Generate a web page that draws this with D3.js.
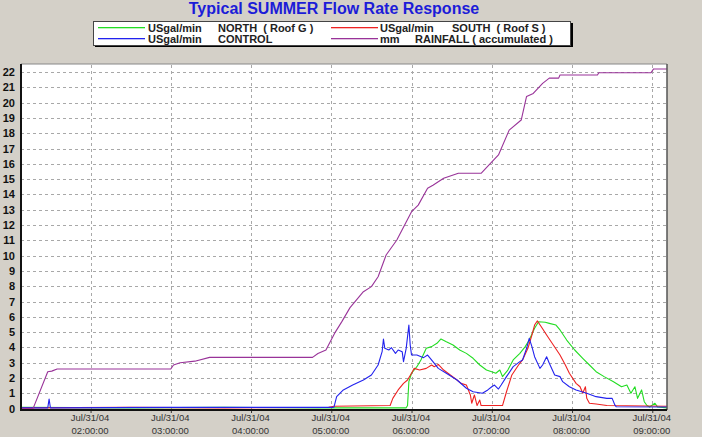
<!DOCTYPE html>
<html><head><meta charset="utf-8">
<script src="https://cdn.jsdelivr.net/npm/d3@7/dist/d3.min.js"></script>
<style>html,body{margin:0;padding:0;background:#d4d0c8;overflow:hidden}</style>
</head><body>
<svg id="c" width="702" height="437"></svg>
<script>
const title = "Typical SUMMER Flow Rate Response";
const yTicks = d3.range(0, 23);
const xTickTimes = ["02:00","03:00","04:00","05:00","06:00","07:00","08:00","09:00"];
const dateLabel = "Jul/31/04";
const xDomain = ["01:08","09:11"];

const seriesNames = ["NORTH","SOUTH","CONTROL","RAINFALL"];
const legendUnits = ["USgal/min","USgal/min","USgal/min","mm"];
const legendTexts = ["NORTH  ( Roof G )","SOUTH  ( Roof S )","CONTROL","RAINFALL ( accumulated )"];
const colors = ["#22dd22","#ee2222","#2222ee","#993399"];

const northT = ["01:08","02:30","03:40","04:50","05:56","05:57","05:58","06:00","06:04","06:07","06:11","06:15","06:19","06:22","06:26","06:31","06:36","06:41","06:46","06:51","06:56","07:01","07:03","07:06","07:08","07:12","07:16","07:21","07:25","07:28","07:32","07:35","07:40","07:43","07:48","07:51","07:56","08:02","08:08","08:13","08:18","08:24","08:31","08:37","08:41","08:44","08:47","08:49","08:52","08:54","08:56","08:58","09:02","09:04","09:11"];
const northV = [0.08,0.05,0.08,0.05,0.05,0.2,1.76,2.31,2.74,3.18,3.94,4.05,4.27,4.55,4.37,4.16,3.83,3.61,3.29,2.85,2.52,2.37,2.31,2.52,2.09,2.52,3.18,3.61,4.05,4.48,5.25,5.68,5.64,5.57,5.46,5.14,4.48,3.83,3.29,2.85,2.41,2.09,1.76,1.43,1.54,1.0,1.43,0.67,1.22,0.45,0.2,0.1,0.35,0.1,0.05];

const southT = ["01:08","02:30","03:40","04:58","05:02","05:44","05:46","05:50","05:54","05:57","06:00","06:02","06:06","06:11","06:15","06:17","06:20","06:24","06:29","06:34","06:37","06:41","06:44","06:45","06:47","06:49","06:51","06:52","07:08","07:11","07:15","07:20","07:23","07:27","07:30","07:32","07:34","07:37","07:41","07:46","07:51","07:55","07:58","08:03","08:06","08:08","08:10","08:11","08:13","08:18","08:26","09:11"];
const southV = [0.05,0.08,0.05,0.08,0.15,0.2,0.67,1.22,1.65,1.87,2.31,2.63,2.52,2.63,2.85,2.74,2.89,2.52,2.2,1.87,1.65,1.54,0.89,0.35,0.89,0.2,0.56,0.2,0.2,1.1,2.2,2.85,3.18,3.94,4.81,5.46,5.73,5.35,4.81,4.16,3.5,2.85,2.31,1.65,1.43,1.0,1.43,0.67,0.35,0.3,0.2,0.15];

const controlT = ["01:08","01:28","01:29","01:30","03:00","05:01","05:02","05:04","05:09","05:16","05:24","05:30","05:35","05:38","05:39","05:40","05:43","05:45","05:48","05:50","05:53","05:54","05:56","05:58","05:59","06:00","06:04","06:09","06:12","06:16","06:20","06:26","06:34","06:41","06:46","06:53","06:57","07:00","07:02","07:05","07:07","07:11","07:16","07:21","07:23","07:26","07:28","07:30","07:32","07:36","07:38","07:41","07:43","07:47","07:51","07:53","07:58","08:03","08:11","08:18","08:26","08:30","08:32","08:33","09:11"];
const controlV = [0.05,0.05,0.63,0.05,0.08,0.08,0.1,0.78,1.22,1.54,1.87,2.2,2.85,3.72,4.55,3.94,3.83,3.98,3.61,3.83,3.72,3.07,3.94,5.46,4.16,3.5,3.5,3.33,3.5,3.07,2.63,2.31,1.87,1.33,1.1,1.0,1.22,1.43,1.54,1.28,1.54,2.09,2.74,3.07,3.18,3.94,4.59,4.05,3.39,2.63,2.85,3.39,2.96,2.2,2.09,1.76,1.43,1.22,1.0,0.78,0.67,0.67,0.24,0.12,0.1];

const rainT = ["01:08","01:17","01:28","01:31","01:35","03:00","03:02","03:07","03:18","03:29","04:46","04:50","04:56","05:03","05:08","05:14","05:24","05:30","05:35","05:41","05:49","05:56","06:00","06:05","06:12","06:16","06:24","06:35","06:52","06:59","07:05","07:13","07:22","07:26","07:31","07:38","07:43","07:50","07:51","08:19","08:20","08:59","09:01","09:11"];
const rainV = [0,0,2.41,2.45,2.59,2.59,2.85,3.0,3.1,3.35,3.35,3.6,3.83,5.0,5.7,6.6,7.64,7.97,8.62,10.04,11.02,12.2,12.87,13.3,14.4,14.6,15.05,15.38,15.38,16.03,16.58,18.2,18.86,20.4,20.6,21.26,21.6,21.6,21.8,21.8,21.95,21.95,22.2,22.2];

const parse = d3.timeParse("%Y-%m-%d %H:%M");
const T = s => parse("2004-07-31 " + s);
const FONT = "Liberation Sans, Arial, sans-serif";

const svg = d3.select("#c");
const L = 21, R = 667, TOP = 64, BOT = 410;
const x = d3.scaleTime().domain(xDomain.map(T)).range([L, R]);
const y = d3.scaleLinear().domain([0, 22]).range([408.6, 72]);

svg.append("rect").attr("width",702).attr("height",437).attr("fill","#d4d0c8");
svg.append("rect").attr("x",L).attr("y",TOP).attr("width",R-L).attr("height",BOT-TOP).attr("fill","#fff");

// grid
const gridY = svg.append("g").attr("transform",`translate(${L},0)`)
  .call(d3.axisLeft(y).tickValues(yTicks).tickSize(-(R-L)).tickFormat(""));
gridY.select(".domain").remove();
gridY.selectAll("line").attr("stroke","#a8a8a8").attr("stroke-dasharray","3,3").attr("shape-rendering","crispEdges");

const gridX = svg.append("g").attr("transform",`translate(0,${BOT})`)
  .call(d3.axisBottom(x).tickValues(xTickTimes.map(T)).tickSize(-(BOT-TOP)).tickFormat(""));
gridX.select(".domain").remove();
gridX.selectAll("line").attr("stroke","#a8a8a8").attr("stroke-dasharray","3,3").attr("shape-rendering","crispEdges");

// y labels
const yAx = svg.append("g").attr("transform",`translate(${L},0)`)
  .call(d3.axisLeft(y).tickValues(yTicks).tickSize(0).tickPadding(6));
yAx.select(".domain").remove();
yAx.selectAll("text").attr("font-family",FONT).attr("font-size","11px").attr("font-weight","bold").attr("fill","#111");

// x labels
const xAx = svg.append("g").attr("transform",`translate(0,${BOT})`)
  .call(d3.axisBottom(x).tickValues(xTickTimes.map(T)).tickSize(3).tickFormat(""));
xAx.select(".domain").remove();
xAx.selectAll("line").attr("stroke","#333");
xAx.selectAll(".tick").each(function(d){
  const g = d3.select(this);
  g.append("text").attr("x",-1).attr("y",11).attr("text-anchor","middle").attr("font-family",FONT).attr("font-size","9.5px").attr("fill","#333").text(dateLabel);
  g.append("text").attr("x",-1).attr("y",24).attr("text-anchor","middle").attr("font-family",FONT).attr("font-size","9.5px").attr("fill","#333").text(d3.timeFormat("%H:%M:%S")(d));
});

// lines
const line = d3.line().x(d=>x(d[0])).y(d=>y(d[1]));
const allT = [northT, southT, controlT, rainT];
const allV = [northV, southV, controlV, rainV];
const plot = svg.append("g");
allT.forEach((ts,i)=>{
  const data = ts.map((t,j)=>[T(t), allV[i][j]]);
  plot.append("path").datum(data).attr("d",line).attr("fill","none").attr("stroke",colors[i]).attr("stroke-width",1.1).attr("stroke-linejoin","round");
});

// borders
svg.append("line").attr("x1",L).attr("x2",R).attr("y1",TOP).attr("y2",TOP).attr("stroke","#888").attr("stroke-width",1);
svg.append("line").attr("x1",R).attr("x2",R).attr("y1",TOP).attr("y2",BOT).attr("stroke","#555").attr("stroke-width",1.5);
svg.append("line").attr("x1",L).attr("x2",L).attr("y1",TOP).attr("y2",BOT+1).attr("stroke","#111").attr("stroke-width",2);
svg.append("line").attr("x1",L).attr("x2",R).attr("y1",BOT).attr("y2",BOT).attr("stroke","#111").attr("stroke-width",2);

// title
svg.append("text").attr("x",334).attr("y",14).attr("text-anchor","middle")
  .attr("font-family",FONT).attr("font-size","16px").attr("font-weight","bold")
  .attr("fill","#1c1cd8").text(title);

// legend
const leg = svg.append("g");
leg.append("rect").attr("x",95).attr("y",23).attr("width",478).attr("height",24).attr("fill","#000");
leg.append("rect").attr("x",93.5).attr("y",21.5).attr("width",477).attr("height",24).attr("fill","#fff").attr("stroke","#444");
const lx = [98, 331], ly = [27.5, 38.5], tx = [148, 380], nx = [218, 452];
const order = [[0,0,0],[1,1,0],[2,0,1],[3,1,1]];
order.forEach(([i,c,r])=>{
  leg.append("rect").attr("x",lx[c]).attr("y",ly[r]-0.5).attr("width",47).attr("height",1.3)
    .attr("fill",colors[i]);
  leg.append("text").attr("x",tx[c]).attr("y",ly[r]+4).attr("font-family",FONT).attr("font-size","11px").attr("font-weight","bold").attr("fill","#222").text(legendUnits[i]);
  const nxx = (i===3) ? 415 : nx[c];
  leg.append("text").attr("x",nxx).attr("y",ly[r]+4).attr("font-family",FONT).attr("font-size","11px").attr("font-weight","bold").attr("fill","#222").style("white-space","pre").text(legendTexts[i]);
});
</script>
</body></html>
